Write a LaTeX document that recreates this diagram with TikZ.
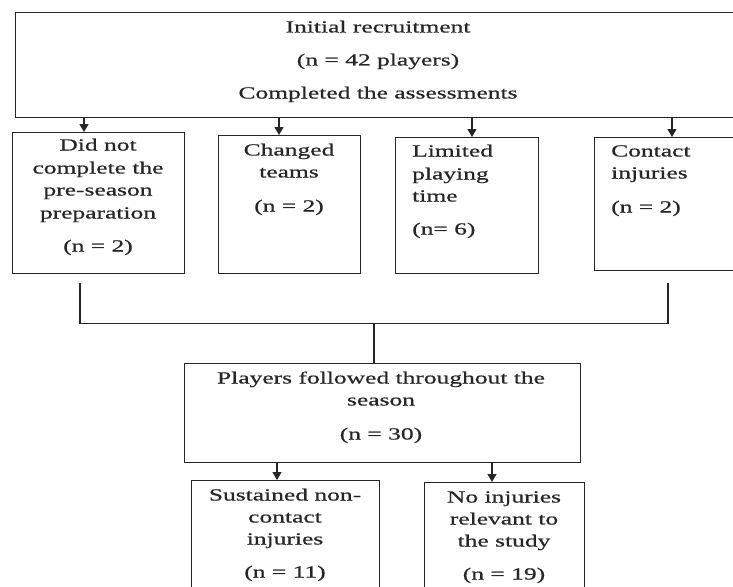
\documentclass[tikz,border=0pt]{standalone}
\usepackage{fontspec}
\setmainfont{Liberation Serif}[FakeStretch=1.5,FakeBold=0.6]
\usetikzlibrary{arrows.meta,calc}
\tikzset{
  box/.style={draw=black!85, line width=1.3pt, rectangle, inner sep=0pt, anchor=north west},
  txt/.style={inner sep=0pt, text height=11pt, text depth=4pt, font=\fontsize{17}{20}\selectfont, text=black!85},
  lft/.style={txt, anchor=west},
  arr/.style={draw=black!85, line width=1.3pt, -{Triangle[width=9pt,length=8pt]}},
  ln/.style={draw=black!85, line width=1.3pt}
}
\begin{document}
\begin{tikzpicture}[x=1pt,y=-1pt]
\useasboundingbox (0,0) rectangle (733,586);
\clip (0,0) rectangle (733,586);
\fill[white] (0,0) rectangle (733,586);
% boxes
\node[box, minimum width=728pt, minimum height=105pt] (top) at (15,12) {};
\node[box, minimum width=172pt, minimum height=141pt] (b1) at (12,132) {};
\node[box, minimum width=142pt, minimum height=138pt] (b2) at (218,135) {};
\node[box, minimum width=143pt, minimum height=136pt] (b3) at (395,137) {};
\node[box, minimum width=150pt, minimum height=133pt] (b4) at (594,137) {};
\node[box, minimum width=396pt, minimum height=99pt] (mid) at (184,363) {};
\node[box, minimum width=188pt, minimum height=130pt] (bl) at (191,480) {};
\node[box, minimum width=160pt, minimum height=130pt] (br) at (424,482) {};
% arrows top -> boxes
\draw[arr] ([xshift=72pt]b1.north west |- top.south) -- ([xshift=72pt]b1.north west);
\draw[arr] ([xshift=61pt]b2.north west |- top.south) -- ([xshift=61pt]b2.north west);
\draw[arr] ([xshift=77pt]b3.north west |- top.south) -- ([xshift=77pt]b3.north west);
\draw[arr] ([xshift=78pt]b4.north west |- top.south) -- ([xshift=78pt]b4.north west);
% merging connector
\coordinate (l1) at ([xshift=68pt,yshift=-9pt]b1.south west);
\coordinate (r1) at ([xshift=74pt,yshift=-12pt]b4.south west);
\coordinate (l2) at ($(l1)+(0,40)$);
\coordinate (r2) at (r1 |- l2);
\coordinate (m1) at ([xshift=190pt]mid.north west |- l2);
\draw[ln] (l1) -- (l2) -- (r2) -- (r1);
\draw[ln] (m1) -- ([xshift=190pt]mid.north west);
% arrows mid -> bottom
\draw[arr] ([xshift=86pt]bl.north west |- mid.south) -- ([xshift=86pt]bl.north west);
\draw[arr] ([xshift=68pt]br.north west |- mid.south) -- ([xshift=68pt]br.north west);
% texts
\node[txt] (t1) at (378,29) {Initial recruitment};
\node[txt] (t2) at (378,62) {(n = 42 players)};
\node[txt] (t3) at (378,95) {Completed the assessments};
\node[txt] (a1) at (98,147) {Did not};
\node[txt] (a2) at (98,170) {complete the};
\node[txt] (a3) at (98,192) {pre-season};
\node[txt] (a4) at (98,215) {preparation};
\node[txt] (a5) at (98,248) {(n = 2)};
\node[txt] (c1) at (289,152) {Changed};
\node[txt] (c2) at (289,174) {teams};
\node[txt] (c3) at (289,208) {(n = 2)};
\node[lft] (d1) at (412,153) {Limited};
\node[lft] (d2) at (412,176) {playing};
\node[lft] (d3) at (412,198) {time};
\node[lft] (d4) at (412,231) {(n= 6)};
\node[lft] (e1) at (611,153) {Contact};
\node[lft] (e2) at (611,175) {injuries};
\node[lft] (e3) at (611,209) {(n = 2)};
\node[txt] (f1) at (381,380) {Players followed throughout the};
\node[txt] (f2) at (381,402) {season};
\node[txt] (f3) at (381,436) {(n = 30)};
\node[txt] (g1) at (285,497) {Sustained non-};
\node[txt] (g2) at (285,519) {contact};
\node[txt] (g3) at (285,541) {injuries};
\node[txt] (g4) at (285,574) {(n = 11)};
\node[txt] (h1) at (504,499) {No injuries};
\node[txt] (h2) at (504,521) {relevant to};
\node[txt] (h3) at (504,543) {the study};
\node[txt] (h4) at (504,576) {(n = 19)};
\end{tikzpicture}
\end{document}
